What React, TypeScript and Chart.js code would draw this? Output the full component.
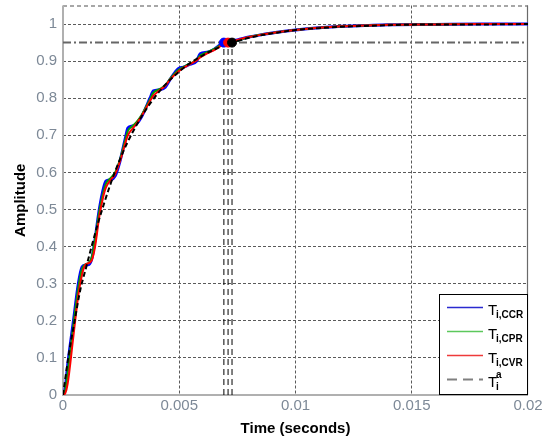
import React, { useEffect, useRef } from 'react';
import { Chart, registerables } from 'chart.js';

Chart.register(...registerables);

const FONT = '"Liberation Sans", Arial, sans-serif';

const xTicks = [0, 0.005, 0.01, 0.015, 0.02];
const yTicks = [0, 0.1, 0.2, 0.3, 0.4, 0.5, 0.6, 0.7, 0.8, 0.9, 1];

// time base shared by the three controller responses
const timeR = [0, 0.0001, 0.0002, 0.00045, 0.00066, 0.00082, 0.00095, 0.00112, 0.00125, 0.00138,
  0.00156, 0.00175, 0.00185, 0.00205, 0.00224, 0.00245, 0.00271, 0.00279, 0.00299, 0.00315,
  0.00338, 0.00374, 0.00389, 0.00417, 0.0044, 0.0046, 0.00496, 0.00518, 0.0054, 0.00575,
  0.0059, 0.0062, 0.0065, 0.0069, 0.0075, 0.008, 0.009, 0.01, 0.011, 0.012,
  0.013, 0.014, 0.016, 0.018, 0.02];

const ampCCR = [0, 0.02, 0.08, 0.2, 0.3, 0.345, 0.35, 0.352, 0.37, 0.42,
  0.5, 0.56, 0.577, 0.58, 0.59, 0.63, 0.7, 0.72, 0.725, 0.73,
  0.75, 0.8, 0.82, 0.823, 0.83, 0.85, 0.88, 0.884, 0.89, 0.9,
  0.92, 0.924, 0.932, 0.95, 0.957, 0.965, 0.976, 0.984, 0.99, 0.994,
  0.996, 0.998, 0.999, 1.0, 1.0];

const ampCPR = [0, 0.015, 0.06, 0.19, 0.29, 0.34, 0.352, 0.357, 0.375, 0.42,
  0.495, 0.55, 0.57, 0.585, 0.6, 0.635, 0.695, 0.712, 0.725, 0.735,
  0.755, 0.797, 0.815, 0.825, 0.835, 0.852, 0.876, 0.884, 0.892, 0.903,
  0.915, 0.924, 0.933, 0.947, 0.955, 0.965, 0.976, 0.984, 0.99, 0.994,
  0.996, 0.998, 0.999, 1.0, 1.0];

const ampCVR = [0, 0.005, 0.03, 0.16, 0.27, 0.325, 0.35, 0.356, 0.365, 0.4,
  0.48, 0.54, 0.56, 0.58, 0.595, 0.63, 0.685, 0.7, 0.718, 0.73,
  0.752, 0.792, 0.807, 0.822, 0.834, 0.85, 0.872, 0.882, 0.89, 0.902,
  0.91, 0.921, 0.93, 0.945, 0.957, 0.965, 0.976, 0.984, 0.99, 0.994,
  0.996, 0.998, 0.999, 1.0, 1.0];

// analytical reference response T_i^a
const timeA = [0, 0.00025, 0.0005, 0.00075, 0.001, 0.00125, 0.0015, 0.00175, 0.002, 0.00225,
  0.0025, 0.00275, 0.003, 0.00325, 0.0035, 0.00375, 0.004, 0.00425, 0.0045, 0.00475,
  0.005, 0.00525, 0.0055, 0.00575, 0.006, 0.00625, 0.0065, 0.00675, 0.007,
  0.00727, 0.0075, 0.008, 0.009, 0.01, 0.011, 0.012, 0.013, 0.014, 0.016, 0.018, 0.02];

const ampA = [0, 0.11, 0.2, 0.285, 0.345, 0.405, 0.462, 0.513, 0.561, 0.604,
  0.643, 0.678, 0.709, 0.737, 0.763, 0.786, 0.807, 0.826, 0.843, 0.858,
  0.872, 0.885, 0.896, 0.906, 0.915, 0.924, 0.931, 0.938, 0.944,
  0.95, 0.954, 0.963, 0.975, 0.984, 0.989, 0.993, 0.995, 0.997, 0.999, 0.999, 1.0];

const threshold = 0.95;
const crossCCR = 0.00692;
const crossCVR = 0.0071;
const crossA = 0.00727;

const seriesNames = ['T_i,CCR', 'T_i,CPR', 'T_i,CVR', 'T_i^a'];
const legendSubs = ['i,CCR', 'i,CPR', 'i,CVR', 'i'];
const legendSups = ['', '', '', 'a'];
const legendColors = ['#2a2ad0', '#5cc85c', '#ee3a3a', '#808080'];

const pts = (xs: number[], ys: number[]) => xs.map((x, i) => ({ x, y: ys[i] }));

const borderPlugin = {
  id: 'axesBox',
  beforeDatasetsDraw(chart: any) {
    const { ctx, chartArea: a } = chart;
    ctx.save();
    // top (dashed)
    ctx.strokeStyle = '#8a8a8a';
    ctx.lineWidth = 1.5;
    ctx.setLineDash([4, 3]);
    ctx.beginPath();
    ctx.moveTo(a.left, a.top + 0.5);
    ctx.lineTo(a.right, a.top + 0.5);
    ctx.stroke();
    ctx.setLineDash([]);
    // right
    ctx.strokeStyle = '#6a6a6a';
    ctx.lineWidth = 1.2;
    ctx.beginPath();
    ctx.moveTo(a.right - 0.5, a.top);
    ctx.lineTo(a.right - 0.5, a.bottom);
    ctx.stroke();
    // left and bottom
    ctx.strokeStyle = '#b0b0b0';
    ctx.lineWidth = 2;
    ctx.beginPath();
    ctx.moveTo(a.left, a.top);
    ctx.lineTo(a.left, a.bottom);
    ctx.lineTo(a.right, a.bottom);
    ctx.stroke();
    ctx.restore();
  },
};

const legendPlugin = {
  id: 'texLegend',
  afterDraw(chart: any) {
    const { ctx, chartArea: a } = chart;
    const right = a.right;
    const bottom = a.bottom;
    const left = right - 89;
    const top = bottom - 101;
    ctx.save();
    ctx.fillStyle = '#ffffff';
    ctx.fillRect(left, top, right - left, bottom - top);
    ctx.strokeStyle = '#000000';
    ctx.lineWidth = 1;
    ctx.strokeRect(left + 0.5, top + 0.5, right - left - 1, bottom - top - 1);
    legendSubs.forEach((sub, i) => {
      const y = top + 13 + i * 24;
      ctx.strokeStyle = legendColors[i];
      ctx.lineWidth = i === 3 ? 2 : 1.5;
      ctx.setLineDash(i === 3 ? [10, 6] : []);
      ctx.beginPath();
      ctx.moveTo(left + 8, y + 0.5);
      ctx.lineTo(left + 44, y + 0.5);
      ctx.stroke();
      ctx.setLineDash([]);
      ctx.fillStyle = '#000000';
      ctx.textBaseline = 'alphabetic';
      ctx.textAlign = 'left';
      ctx.font = `15px ${FONT}`;
      ctx.fillText('T', left + 49, y + 8);
      ctx.font = `bold 10px ${FONT}`;
      ctx.fillText(sub, left + 57, y + 11);
      if (legendSups[i]) {
        ctx.fillText(legendSups[i], left + 57, y - 1);
      }
    });
    ctx.restore();
  },
};

export default function App() {
  const ref = useRef<HTMLCanvasElement | null>(null);

  useEffect(() => {
    if (!ref.current) return;
    const chart = new Chart(ref.current, {
      type: 'scatter',
      data: {
        datasets: [
          { label: 'mA', data: [{ x: crossA, y: threshold }], backgroundColor: '#000', borderColor: '#000', pointRadius: 4.5, order: 0 },
          { label: 'mCVR', data: [{ x: crossCVR, y: threshold }], backgroundColor: '#ff0000', borderColor: '#ff0000', pointRadius: 4.5, order: 1 },
          { label: 'mCCR', data: [{ x: crossCCR, y: threshold }], backgroundColor: '#0000ff', borderColor: '#0000ff', pointRadius: 4.5, order: 2 },
          { label: seriesNames[3], data: pts(timeA, ampA), showLine: true, borderColor: '#000000', borderWidth: 2, borderDash: [5, 3], pointRadius: 0, cubicInterpolationMode: 'monotone', order: 3 } as any,
          { label: seriesNames[2], data: pts(timeR, ampCVR), showLine: true, borderColor: '#ff0000', borderWidth: 2, pointRadius: 0, cubicInterpolationMode: 'monotone', order: 4 } as any,
          { label: seriesNames[1], data: pts(timeR, ampCPR), showLine: true, borderColor: '#00a000', borderWidth: 2, pointRadius: 0, cubicInterpolationMode: 'monotone', order: 5 } as any,
          { label: seriesNames[0], data: pts(timeR, ampCCR), showLine: true, borderColor: '#0000ff', borderWidth: 3, pointRadius: 0, cubicInterpolationMode: 'monotone', order: 6 } as any,
          { label: 'thr', data: [{ x: 0, y: threshold }, { x: 0.02, y: threshold }], showLine: true, borderColor: '#666666', borderWidth: 2, borderDash: [8, 3, 2, 3], pointRadius: 0, order: 7 } as any,
          { label: 'vCCR', data: [{ x: crossCCR, y: 0 }, { x: crossCCR, y: threshold }], showLine: true, borderColor: '#000', borderWidth: 1, borderDash: [6, 4], pointRadius: 0, order: 8 } as any,
          { label: 'vCVR', data: [{ x: crossCVR, y: 0 }, { x: crossCVR, y: threshold }], showLine: true, borderColor: '#000', borderWidth: 1, borderDash: [6, 4], pointRadius: 0, order: 8 } as any,
          { label: 'vA', data: [{ x: crossA, y: 0 }, { x: crossA, y: threshold }], showLine: true, borderColor: '#000', borderWidth: 1, borderDash: [6, 4], pointRadius: 0, order: 8 } as any,
        ],
      },
      options: {
        animation: false,
        responsive: false,
        devicePixelRatio: 1,
        layout: { padding: { top: 4, right: 27, left: 0, bottom: 0 } },
        plugins: { legend: { display: false }, tooltip: { enabled: false } },
        scales: {
          x: {
            type: 'linear',
            min: 0,
            max: 0.02,
            afterBuildTicks: (s: any) => { s.ticks = xTicks.map((v) => ({ value: v })); },
            afterFit: (s: any) => { s.height = 44; s.paddingLeft = 0; s.paddingRight = 0; },
            ticks: {
              color: '#7d8997',
              font: { family: FONT, size: 15 },
              padding: 2,
              maxRotation: 0,
              autoSkip: false,
              callback: (v: any) => String(v),
            },
            grid: {
              color: (c: any) => (c.tick && (c.tick.value === 0 || c.tick.value === 0.02) ? 'rgba(0,0,0,0)' : '#5a5a5a'),
              lineWidth: 1,
              drawTicks: false,
            },
            border: { display: false, dash: [3, 2] },
            title: {
              display: true,
              text: 'Time (seconds)',
              color: '#000',
              font: { family: FONT, size: 15, weight: 'bold' },
              padding: { top: 0, bottom: 1 },
            },
          },
          y: {
            type: 'linear',
            min: 0,
            max: 1.05,
            afterBuildTicks: (s: any) => { s.ticks = yTicks.map((v) => ({ value: v })); },
            afterFit: (s: any) => { s.width = 63; s.paddingTop = 0; s.paddingBottom = 0; },
            ticks: {
              color: '#7d8997',
              font: { family: FONT, size: 15 },
              padding: 6,
              autoSkip: false,
              callback: (v: any) => String(v),
            },
            grid: {
              color: (c: any) => (c.tick && c.tick.value === 0 ? 'rgba(0,0,0,0)' : '#5a5a5a'),
              lineWidth: 1,
              drawTicks: false,
            },
            border: { display: false, dash: [3, 2] },
            title: {
              display: true,
              text: 'Amplitude',
              color: '#000',
              font: { family: FONT, size: 15, weight: 'bold' },
              padding: { top: 12, bottom: 0 },
            },
          },
        },
      } as any,
      plugins: [borderPlugin, legendPlugin],
    });
    return () => chart.destroy();
  }, []);

  return (
    <div style={{ position: 'fixed', left: 0, top: 0, width: 555, height: 439, background: '#fff' }}>
      <canvas ref={ref} width={555} height={439} style={{ display: 'block', width: 555, height: 439 }} />
    </div>
  );
}
